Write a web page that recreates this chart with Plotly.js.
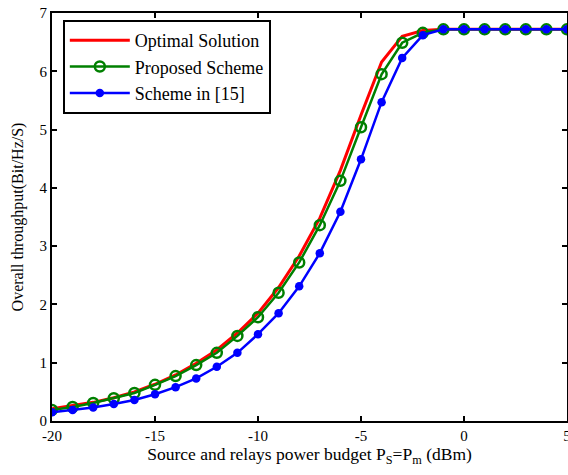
<!DOCTYPE html>
<html>
<head>
<meta charset="utf-8">
<script src="https://cdn.plot.ly/plotly-3.0.1.min.js"></script>
<style>html,body{margin:0;padding:0;background:#fff;}#chart{width:568px;height:475px;}</style>
</head>
<body>
<div id="chart"></div>
<script>
const powerBudget = [-20,-19,-18,-17,-16,-15,-14,-13,-12,-11,-10,-9,-8,-7,-6,-5,-4,-3,-2,-1,0,1,2,3,4,5];
const optimalSolution = [0.21,0.26,0.32,0.40,0.50,0.63,0.79,0.99,1.22,1.51,1.85,2.29,2.83,3.48,4.30,5.25,6.16,6.60,6.70,6.72,6.72,6.72,6.72,6.72,6.72,6.72];
const proposedScheme = [0.19,0.24,0.31,0.39,0.48,0.62,0.77,0.96,1.17,1.46,1.78,2.20,2.72,3.36,4.12,5.04,5.95,6.49,6.66,6.72,6.72,6.72,6.72,6.72,6.72,6.72];
const schemeIn15 = [0.15,0.19,0.23,0.29,0.36,0.46,0.58,0.73,0.93,1.17,1.49,1.85,2.31,2.88,3.59,4.49,5.47,6.23,6.62,6.72,6.72,6.72,6.72,6.72,6.72,6.72];
const xTickVals = [-20,-15,-10,-5,0,5];
const xTickText = ["-20","-15","-10","-5","0","5"];
const yTickVals = [0,1,2,3,4,5,6,7];
const yTickText = ["0","1","2","3","4","5","6","7"];

const font = "Liberation Serif, Times New Roman, serif";
const traces = [
  {x: powerBudget, y: optimalSolution, name: "Optimal Solution", mode: "lines",
   line: {color: "#ff0000", width: 3}},
  {x: powerBudget, y: proposedScheme, name: "Proposed Scheme", mode: "lines+markers",
   line: {color: "#008000", width: 2.5},
   marker: {symbol: "circle-open", size: 10, color: "#008000", line: {width: 2.5, color: "#008000"}}},
  {x: powerBudget, y: schemeIn15, name: "Scheme in [15]", mode: "lines+markers",
   line: {color: "#0000ff", width: 2.5},
   marker: {symbol: "circle", size: 8.5, color: "#0000ff"}}
];
const axisCommon = {showline: true, mirror: "ticks", linecolor: "#000", linewidth: 2,
  ticks: "inside", ticklen: 5, tickwidth: 2, tickcolor: "#000", showgrid: false, zeroline: false,
  ticklabeloverflow: "allow",
  tickfont: {family: font, size: 15, color: "#000"}};
const layout = {
  width: 568, height: 475,
  margin: {l: 52, r: 1, t: 13, b: 54},
  paper_bgcolor: "#fff", plot_bgcolor: "#fff",
  font: {family: font, color: "#000"},
  showlegend: true,
  legend: {x: 0.021, y: 0.983, xanchor: "left", yanchor: "top", bgcolor: "#fff",
    bordercolor: "#000", borderwidth: 2, font: {family: font, size: 18, color: "#000"},
    tracegroupgap: 0, itemwidth: 60},
  xaxis: Object.assign({}, axisCommon, {range: [-20, 5], tickvals: xTickVals, ticktext: xTickText,
    title: {text: "Source and relays power budget P<sub>S</sub>=P<sub>m</sub> (dBm)", font: {family: font, size: 17.5, color: "#000"}, standoff: 4}}),
  yaxis: Object.assign({}, axisCommon, {range: [0, 7], tickvals: yTickVals, ticktext: yTickText,
    title: {text: "Overall throughput(Bit/Hz/S)", font: {family: font, size: 16, color: "#000"}, standoff: 12}})
};
Plotly.newPlot("chart", traces, layout, {displayModeBar: false, staticPlot: true});
</script>
</body>
</html>
